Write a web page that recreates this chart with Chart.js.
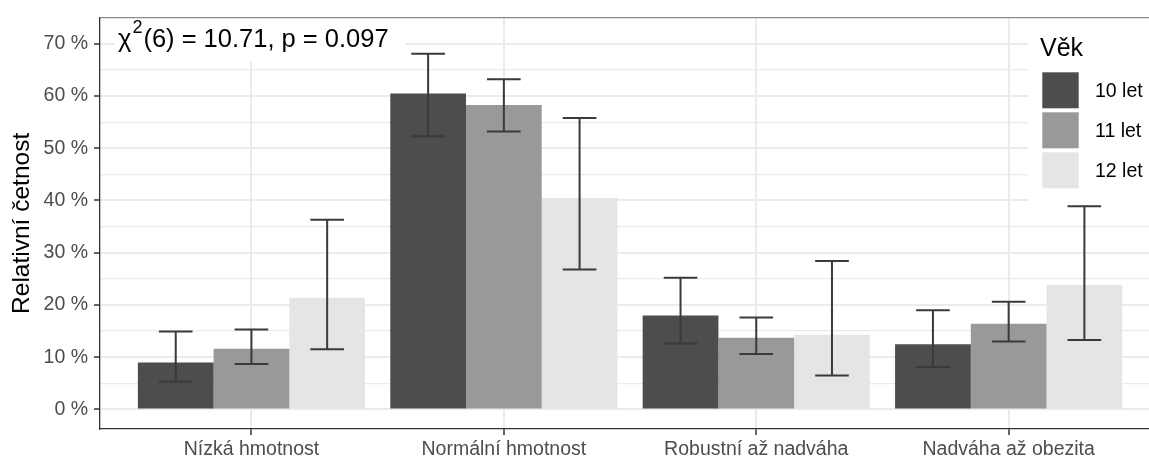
<!DOCTYPE html>
<html>
<head>
<meta charset="utf-8">
<script src="https://cdn.jsdelivr.net/npm/chart.js@4"></script>
<style>
html,body{margin:0;padding:0;background:#fff;overflow:hidden;}
#wrap{position:relative;width:1149px;height:459px;}
</style>
</head>
<body>
<div id="wrap"><canvas id="c"></canvas></div>
<script>
// ---- data ----
const CATEGORIES = ['Nízká hmotnost', 'Normální hmotnost', 'Robustní až nadváha', 'Nadváha až obezita'];
const AGE_GROUPS = ['10 let', '11 let', '12 let'];
const PCT_10 = [9.0, 60.5, 18.0, 12.5];
const PCT_11 = [11.6, 58.3, 13.7, 16.4];
const PCT_12 = [21.4, 40.5, 14.3, 23.8];
const LO_10 = [5.3, 52.3, 12.6, 8.1];
const HI_10 = [14.9, 68.1, 25.2, 19.0];
const LO_11 = [8.7, 53.2, 10.6, 13.0];
const HI_11 = [15.3, 63.2, 17.6, 20.6];
const LO_12 = [11.5, 26.8, 6.5, 13.3];
const HI_12 = [36.3, 55.8, 28.4, 38.9];
const Y_TICKS = [0, 10, 20, 30, 40, 50, 60, 70];
const Y_MINOR = [5, 15, 25, 35, 45, 55, 65];
const STAT_TEXT = ['χ', '2', '(6) = 10.71, p = 0.097'];
const LEGEND_TITLE = 'Věk';

const FILLS = ['#4d4d4d', '#999999', '#e5e5e5'];
const VALUES = [PCT_10, PCT_11, PCT_12];
const LOWS = [LO_10, LO_11, LO_12];
const HIGHS = [HI_10, HI_11, HI_12];
const FONT = '"Liberation Sans", Arial, sans-serif';

const datasets = AGE_GROUPS.map((g, i) => ({
  label: g,
  data: VALUES[i].map((v, j) => ({x: j + 1, y: v})),
  backgroundColor: FILLS[i],
  borderWidth: 0,
  categoryPercentage: 0.9,
  barPercentage: 1.0
}));

const errorBars = {
  id: 'errorBars',
  afterDatasetsDraw(chart) {
    const ctx = chart.ctx;
    const ys = chart.scales.y;
    ctx.save();
    ctx.strokeStyle = '#3a3a3a';
    ctx.lineWidth = 2;
    chart.data.datasets.forEach((ds, i) => {
      const meta = chart.getDatasetMeta(i);
      meta.data.forEach((el, j) => {
        const x = el.x;
        const half = el.width * 0.222;
        const yl = ys.getPixelForValue(LOWS[i][j]);
        const yh = ys.getPixelForValue(HIGHS[i][j]);
        ctx.beginPath();
        ctx.moveTo(x, yl); ctx.lineTo(x, yh);
        ctx.moveTo(x - half, yl); ctx.lineTo(x + half, yl);
        ctx.moveTo(x - half, yh); ctx.lineTo(x + half, yh);
        ctx.stroke();
      });
    });
    ctx.restore();
  }
};

const overlay = {
  id: 'overlay',
  afterDraw(chart) {
    const ctx = chart.ctx;
    const a = chart.chartArea;
    ctx.save();
    // label background for statistic
    ctx.fillStyle = '#ffffff';
    ctx.fillRect(115, a.top, 290, 44);
    // legend background
    ctx.fillRect(1028, a.top, chart.width - 1028, 186);
    // statistic text
    ctx.fillStyle = '#000000';
    ctx.textBaseline = 'alphabetic';
    ctx.textAlign = 'left';
    let x = 118;
    const base = 46.7;
    ctx.font = '25.5px ' + FONT;
    ctx.fillText(STAT_TEXT[0], x, base);
    x += ctx.measureText(STAT_TEXT[0]).width + 1;
    ctx.font = '18px ' + FONT;
    ctx.fillText(STAT_TEXT[1], x, base - 14);
    x += ctx.measureText(STAT_TEXT[1]).width + 1;
    ctx.font = '25.5px ' + FONT;
    ctx.fillText(STAT_TEXT[2], x, base);
    // legend
    ctx.font = '25px ' + FONT;
    ctx.fillText(LEGEND_TITLE, 1040, 56);
    ctx.font = '19.5px ' + FONT;
    ctx.textBaseline = 'middle';
    AGE_GROUPS.forEach((g, i) => {
      const ky = 72.3 + i * 40;
      ctx.fillStyle = FILLS[i];
      ctx.fillRect(1042.3, ky, 36.4, 36);
      ctx.fillStyle = '#000000';
      ctx.fillText(g, 1095, ky + 18 + 1);
    });
    // top border
    ctx.strokeStyle = '#8c8c8c';
    ctx.lineWidth = 1.3;
    ctx.beginPath();
    ctx.moveTo(a.left, a.top);
    ctx.lineTo(a.right, a.top);
    ctx.stroke();
    ctx.restore();
  }
};

new Chart(document.getElementById('c'), {
  type: 'bar',
  data: {datasets},
  options: {
    responsive: true,
    maintainAspectRatio: false,
    animation: false,
    layout: {padding: {top: 16, left: 0, right: 0, bottom: 0}},
    plugins: {legend: {display: false}, tooltip: {enabled: false}},
    scales: {
      x: {
        type: 'linear',
        offset: false,
        min: 0.4,
        max: 4.556,
        afterBuildTicks(scale) { scale.ticks = CATEGORIES.map((c, i) => ({value: i + 1})); },
        afterFit(scale) { scale.height = 30; },
        ticks: {
          callback: (v) => CATEGORIES[Math.round(v) - 1] || '',
          color: '#4d4d4d',
          font: {family: FONT, size: 19.5},
          padding: 3,
          maxRotation: 0,
          autoSkip: false
        },
        grid: {
          offset: false,
          color: '#ebebeb',
          lineWidth: 2,
          tickColor: '#333333',
          tickLength: 6,
          tickWidth: 1.5
        },
        border: {color: '#333333', width: 1.3}
      },
      y: {
        min: -3.75,
        max: 75,
        afterBuildTicks(scale) {
          scale.ticks = Y_TICKS.concat(Y_MINOR).sort((p, q) => p - q).map(v => ({value: v}));
        },
        afterFit(scale) { scale.width = 100; },
        ticks: {
          callback: (v) => (Y_TICKS.includes(v) ? v + ' %' : ''),
          color: '#4d4d4d',
          font: {family: FONT, size: 19.5},
          padding: 6
        },
        grid: {
          color: '#ebebeb',
          lineWidth: (c) => (c.tick && Y_TICKS.includes(c.tick.value) ? 2 : 1.2),
          tickColor: (c) => (c.tick && Y_TICKS.includes(c.tick.value) ? '#333333' : 'rgba(0,0,0,0)'),
          tickLength: 6,
          tickWidth: 1.5
        },
        border: {color: '#333333', width: 1.3},
        title: {
          display: true,
          text: 'Relativní četnost',
          color: '#000000',
          font: {family: FONT, size: 24.5},
          padding: {top: 8, bottom: 0}
        }
      }
    }
  },
  plugins: [errorBars, overlay]
});
</script>
</body>
</html>
